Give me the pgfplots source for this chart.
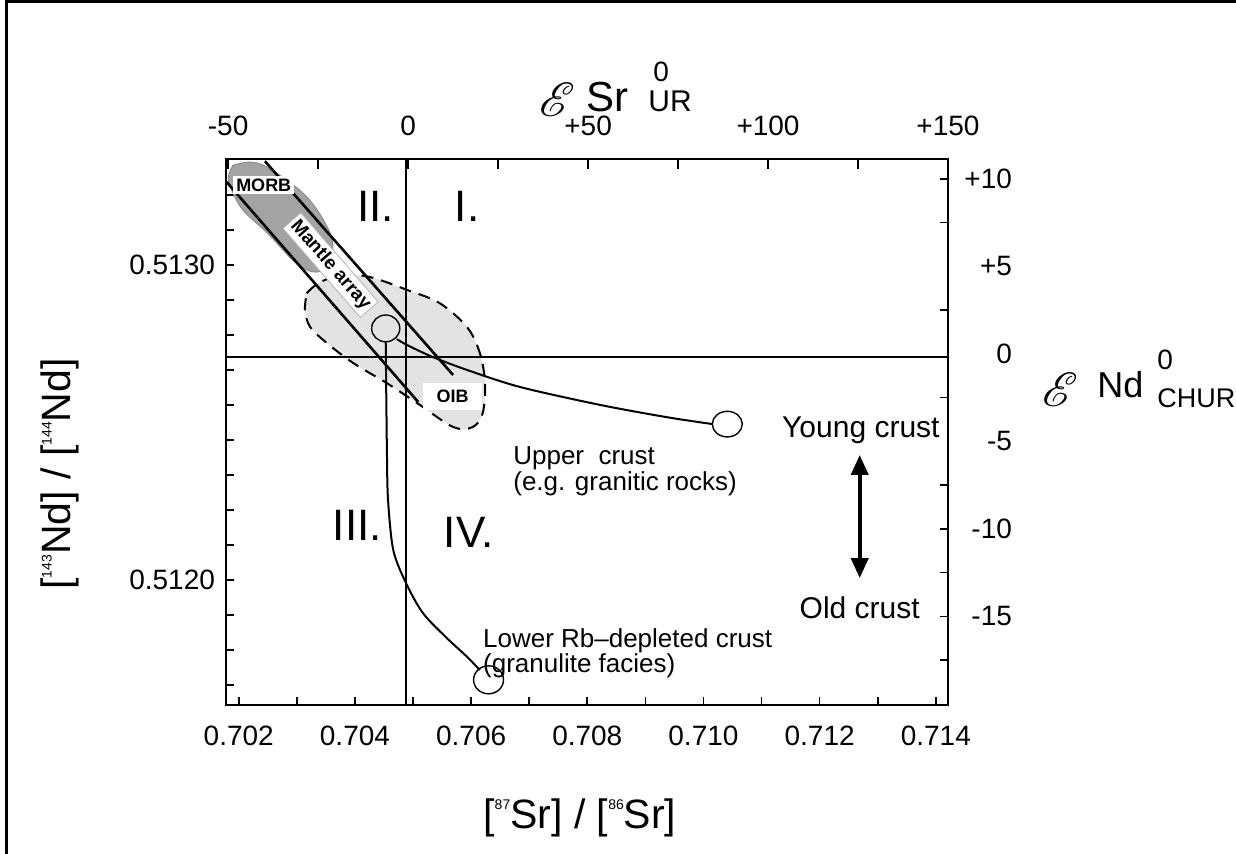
\documentclass[border=0pt]{standalone}
\usepackage{pgfplots}
\pgfplotsset{compat=1.18}
\usepackage{graphicx}
\usepackage{fontspec}
\setmainfont{Liberation Sans}
\usepackage{mathrsfs}
\usetikzlibrary{arrows.meta}
\newcommand{\fs}[1]{\fontsize{#1}{#1}\selectfont}
\newcommand{\sups}[1]{\raisebox{9.5pt}{\fs{7}#1}}

\begin{document}
\begin{tikzpicture}
% ---------------- main axis: 87Sr/86Sr vs 143Nd/144Nd ----------------
\begin{axis}[
  scale only axis, width=361pt, height=273pt,
  clip mode=individual,
  xmin=0.70178, xmax=0.71421,
  ymin=0.511603, ymax=0.513337,
  axis line style={line width=1pt},
  tick style={line width=0.8pt, black},
  major tick length=4pt, minor tick length=4pt,
  tick align=inside,
  xtick={0.702,0.704,0.706,0.708,0.710,0.712,0.714},
  xticklabels={0.702,0.704,0.706,0.708,0.710,0.712,0.714},
  minor xtick={0.703,0.705,0.707,0.709,0.711,0.713},
  ytick={0.512,0.513},
  yticklabels={0.5120,0.5130},
  minor ytick={0.511667,0.511778,0.511889,0.512111,0.512222,0.512333,0.512444,0.512556,0.512667,0.512778,0.512889,0.513111,0.513222},
  xtick pos=left, ytick pos=left,
  xticklabel style={font=\fs{14}, yshift=-7pt},
  yticklabel style={font=\fs{14}, xshift=-2pt},
  xlabel={[\sups{87}Sr] / [\sups{86}Sr]},
  ylabel={[\sups{143}Nd] / [\sups{144}Nd]},
  xlabel style={at={(axis description cs:0.49,-0.207)}, anchor=center, font=\fs{20.5}},
  ylabel style={at={(axis description cs:-0.23,0.423)}, anchor=center, font=\fs{20.5}},
]
% OIB field
\addplot[draw=black, line width=1pt, dash pattern=on 6pt off 4pt, fill=black!11, smooth, tension=0.55] coordinates {
(0.70317,0.512911) (0.70340,0.512946) (0.70379,0.512968) (0.70426,0.512962)
(0.70490,0.512921) (0.70546,0.512879) (0.70593,0.512803) (0.70615,0.512721)
(0.70624,0.512625) (0.70620,0.512530) (0.70603,0.512486) (0.70569,0.512486)
(0.70507,0.512562) (0.70455,0.512625) (0.70397,0.512689) (0.70352,0.512752)
(0.70323,0.512803) (0.70314,0.512857) (0.70317,0.512911)} -- cycle;
% MORB field
\addplot[draw=black!45, line width=0.5pt, fill=black!36, smooth, tension=0.55] coordinates {
(0.70190,0.513317) (0.70219,0.513327) (0.70249,0.513311) (0.70305,0.513238)
(0.70335,0.513175) (0.70357,0.513102) (0.70362,0.513048) (0.70354,0.513000)
(0.70335,0.512978) (0.70311,0.512990) (0.70288,0.513025) (0.70249,0.513102)
(0.70207,0.513175) (0.70188,0.513238) (0.70182,0.513279) (0.70190,0.513317)} -- cycle;
% reference lines (UR and CHUR)
\addplot[line width=0.6pt] coordinates {(0.70488,0.511603) (0.70488,0.513337)};
\addplot[line width=0.6pt] coordinates {(0.70178,0.512708) (0.71421,0.512708)};
% mantle array
\addplot[line width=1.3pt] coordinates {(0.70179,0.513264) (0.70509,0.512565)};
\addplot[line width=1.3pt] coordinates {(0.70245,0.513330) (0.70569,0.512651)};
% mixing curves
\addplot[line width=1pt, smooth] coordinates {
(0.70472,0.512765) (0.70490,0.512746) (0.70534,0.512708) (0.70593,0.512667)
(0.70684,0.512613) (0.70822,0.512556) (0.70937,0.512517) (0.71016,0.512495)};
\addplot[line width=1pt, smooth] coordinates {
(0.70453,0.512756) (0.70455,0.512413) (0.70457,0.512254) (0.70466,0.512095)
(0.70488,0.511990) (0.70517,0.511895) (0.70558,0.511816) (0.70593,0.511756)
(0.70615,0.511714)};
% end members
\addplot[only marks, mark=o, mark size=6.4pt, mark options={xscale=1.17, line width=0.7pt, fill=none}] coordinates {(0.71041,0.512495)};
\addplot[only marks, mark=o, mark size=6.7pt, mark options={xscale=1.05, line width=0.7pt, fill=none}] coordinates {(0.70453,0.512799)};
\addplot[only marks, mark=o, mark size=7pt, mark options={xscale=1.07, line width=0.7pt, fill=none}] coordinates {(0.70630,0.511683)};
% young/old crust arrow
\addplot[line width=2pt, {Triangle[length=10pt,width=8.5pt]}-{Triangle[length=10pt,width=8.5pt]}] coordinates {(0.71269,0.512397) (0.71269,0.512006)};

% labels
\node[font=\fs{22}] at (axis cs:0.70436,0.513187) {II.};
\node[font=\fs{22}] at (axis cs:0.70593,0.513187) {I.};
\node[font=\fs{22}] at (axis cs:0.70404,0.512175) {III.};
\node[font=\fs{22}] at (axis cs:0.70596,0.512152) {IV.};
\node[font=\bfseries\fs{9}, fill=white, inner sep=1.5pt] at (axis cs:0.70243,0.513254) {MORB};
\node[font=\bfseries\fs{9.5}, fill=white, draw=black!30, line width=0.4pt, rotate=-49, inner sep=1.5pt] at (axis cs:0.70358,0.5130) {Mantle array};
\node[font=\bfseries\fs{9}, fill=white, minimum width=29.5pt, minimum height=13.5pt, inner sep=0pt] at (axis cs:0.70568,0.512583) {OIB};
\node[font=\fontsize{13}{12}\selectfont, align=left, anchor=west, inner sep=0pt] at (axis cs:0.70672,0.512346) {Upper\ \ crust\\(e.g. granitic rocks)};
\node[font=\fontsize{13}{12.5}\selectfont, align=left, anchor=west, inner sep=0pt] at (axis cs:0.70620,0.511768) {Lower Rb--depleted crust\\(granulite facies)};
\node[font=\fs{15}] at (axis cs:0.71271,0.512476) {Young crust};
\node[font=\fs{15}] at (axis cs:0.71269,0.511911) {Old crust};
% epsilon Sr title (top)
\node[inner sep=0pt] at (axis description cs:0.4584,1.1081) {\scalebox{2.4}{$\mathscr{E}$}};
\node[anchor=base west, inner sep=0pt, font=\fs{21}] at (axis description cs:0.4986,1.0861) {Sr};
\node[anchor=base west, inner sep=0pt, font=\fs{15}] at (axis description cs:0.5845,1.0861) {UR};
\node[anchor=base west, inner sep=0pt, font=\fs{14}] at (axis description cs:0.5914,1.1410) {0};
% epsilon Nd title (right)
\node[inner sep=0pt] at (axis description cs:1.1551,0.5769) {\scalebox{2.4}{$\mathscr{E}$}};
\node[anchor=base west, inner sep=0pt, font=\fs{18}] at (axis description cs:1.2064,0.5623) {Nd};
\node[anchor=base west, inner sep=0pt, font=\fs{14}] at (axis description cs:1.2895,0.6136) {0};
\node[anchor=base west, inner sep=0pt, font=\fs{13.5}] at (axis description cs:1.2895,0.5440) {CHUR};
\end{axis}

% ---------------- top axis: epsilon Sr ----------------
\begin{axis}[
  scale only axis, width=361pt, height=273pt,
  xmin=-50.6, xmax=150, ymin=0, ymax=1,
  hide y axis,
  axis line style={line width=1pt},
  tick style={line width=0.8pt, black},
  tick align=inside, major tick length=5pt, minor tick length=5pt,
  xtick={-50,0,50,100,150}, xticklabels={-50,0,+50,+100,+150},
  minor xtick={-25,25,75,125},
  xtick pos=right, xticklabel pos=right,
  xticklabel style={font=\fs{14}, yshift=8pt},
]
\end{axis}

% ---------------- right axis: epsilon Nd ----------------
\begin{axis}[
  scale only axis, width=361pt, height=273pt,
  xmin=0, xmax=1, ymin=-20.06, ymax=11.14,
  hide x axis,
  axis line style={line width=1pt},
  tick style={line width=0.8pt, black},
  tick align=inside, major tick length=0pt, minor tick length=4pt,
  ytick={-15,-10,-5,0,5,10}, yticklabels={-15,-10,-5,0,+5,+10},
  minor ytick={-17.5,-15,-12.5,-10,-7.5,-2.5,2.5,7.5,10},
  ytick pos=right, yticklabel pos=right,
  yticklabel style={font=\fs{14}, anchor=east, xshift=35.5pt},
]
\end{axis}

% outer frame of the scanned figure
\draw[line width=1.5pt] (-109.5pt,-80pt) -- (-109.5pt,351.5pt) -- (520pt,351.5pt);

\pgfresetboundingbox
\path[use as bounding box] (-113pt,-74.5pt) rectangle (505pt,352.5pt);
\end{tikzpicture}
\end{document}
